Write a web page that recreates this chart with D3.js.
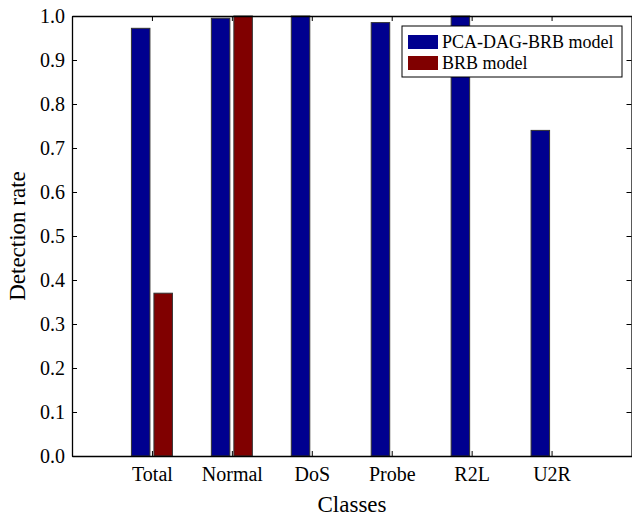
<!DOCTYPE html>
<html>
<head>
<meta charset="utf-8">
<script src="https://cdn.jsdelivr.net/npm/d3@7"></script>
<style>
    body { margin: 0; background: #fff; }
    svg text { font-family: "Liberation Serif", Times, "DejaVu Serif", serif !important; fill: #000; }
</style>
</head>
<body>
<div id="chart-container"></div>
<script>
// data
const classes = ["Total", "Normal", "DoS", "Probe", "R2L", "U2R"];
const pcaDagBrb = [0.972, 0.995, 1.0, 0.985, 1.0, 0.74];
const brbModel = [0.37, 1.0, 0.0, 0.0, 0.0, 0.0];
const seriesNames = ["PCA-DAG-BRB model", "BRB model"];
const seriesColors = ["#00008f", "#800000"];
const yTicks = [0, 0.1, 0.2, 0.3, 0.4, 0.5, 0.6, 0.7, 0.8, 0.9, 1.0];

// step 1 svg and margins
let margin = { top: 16, right: 0, bottom: 61, left: 72 },
    width = 632 - margin.left - margin.right,
    height = 517 - margin.top - margin.bottom;

let svg = d3.select("#chart-container")
    .append("svg")
    .attr("width", 632)
    .attr("height", 517);

let g = svg.append("g")
    .attr("transform", "translate(" + margin.left + "," + margin.top + ")");

// step 2 scales (categories sit at 1..6 on a 0..7 axis, like matlab)
let xScale = d3.scaleLinear().domain([0, 7]).range([0, width - 0.5]);
let yScale = d3.scaleLinear().domain([0, 1]).range([height, 0]);

let barW = 18.5, gap = 2;

// step 3 bars
let rows = classes.map((c, i) => ({ c: c, i: i + 1, vals: [pcaDagBrb[i], brbModel[i]] }));

let grp = g.selectAll(".grp")
    .data(rows)
    .enter()
    .append("g")
    .attr("class", "grp");

grp.selectAll("rect")
    .data(d => d.vals.map((v, k) => ({ i: d.i, v: v, k: k })))
    .enter()
    .append("rect")
    .attr("x", d => d.k === 0 ? xScale(d.i) - gap - barW : xScale(d.i) + gap)
    .attr("width", barW)
    .attr("y", d => yScale(d.v))
    .attr("height", d => height - yScale(d.v))
    .attr("fill", d => seriesColors[d.k])
    .attr("stroke", "#333")
    .attr("stroke-width", 1);

// step 4 axes, ticks point inward on all four sides
let xAxisB = d3.axisBottom(xScale).tickValues(d3.range(1, 7)).tickSizeInner(-5).tickSizeOuter(0)
    .tickPadding(11).tickFormat(d => classes[d - 1]);
let xAxisT = d3.axisTop(xScale).tickValues(d3.range(1, 7)).tickSizeInner(-5).tickSizeOuter(0).tickFormat("");
let yAxisL = d3.axisLeft(yScale).tickValues(yTicks).tickSizeInner(-5).tickSizeOuter(0)
    .tickPadding(7).tickFormat(d3.format(".1f"));
let yAxisR = d3.axisRight(yScale).tickValues(yTicks).tickSizeInner(-5).tickSizeOuter(0).tickFormat("");

g.append("g").attr("class", "axis").attr("transform", "translate(0," + height + ")").call(xAxisB);
g.append("g").attr("class", "axis").call(xAxisT);
g.append("g").attr("class", "axis").call(yAxisL);
g.append("g").attr("class", "axis").attr("transform", "translate(" + (width - 0.5) + ",0)").call(yAxisR);

g.selectAll(".axis").attr("font-family", null).attr("font-size", null);
g.selectAll(".axis path").attr("stroke", "#000").attr("stroke-width", 1.3);
g.selectAll(".axis line").attr("stroke", "#000");
g.selectAll(".axis text").style("font-size", "20px");

// step 5 axis labels
svg.append("text")
    .attr("x", margin.left + width / 2)
    .attr("y", 512)
    .attr("text-anchor", "middle")
    .style("font-size", "23px")
    .text("Classes");

svg.append("text")
    .attr("transform", "translate(25," + (margin.top + height / 2) + ") rotate(-90)")
    .attr("text-anchor", "middle")
    .style("font-size", "23px")
    .text("Detection rate");

// step 6 legend
let legend = svg.append("g")
    .attr("transform", "translate(402,26)");

legend.append("rect")
    .attr("width", 220)
    .attr("height", 51)
    .attr("fill", "#fff")
    .attr("stroke", "#000")
    .attr("stroke-width", 1);

let item = legend.selectAll(".item")
    .data(seriesNames)
    .enter()
    .append("g")
    .attr("class", "item")
    .attr("transform", (d, i) => "translate(6," + (9 + i * 21) + ")");

item.append("rect")
    .attr("width", 30)
    .attr("height", 14)
    .attr("fill", (d, i) => seriesColors[i]);

item.append("text")
    .attr("x", 34)
    .attr("y", 12.5)
    .style("font-size", "18px")
    .text(d => d);
</script>
</body>
</html>
